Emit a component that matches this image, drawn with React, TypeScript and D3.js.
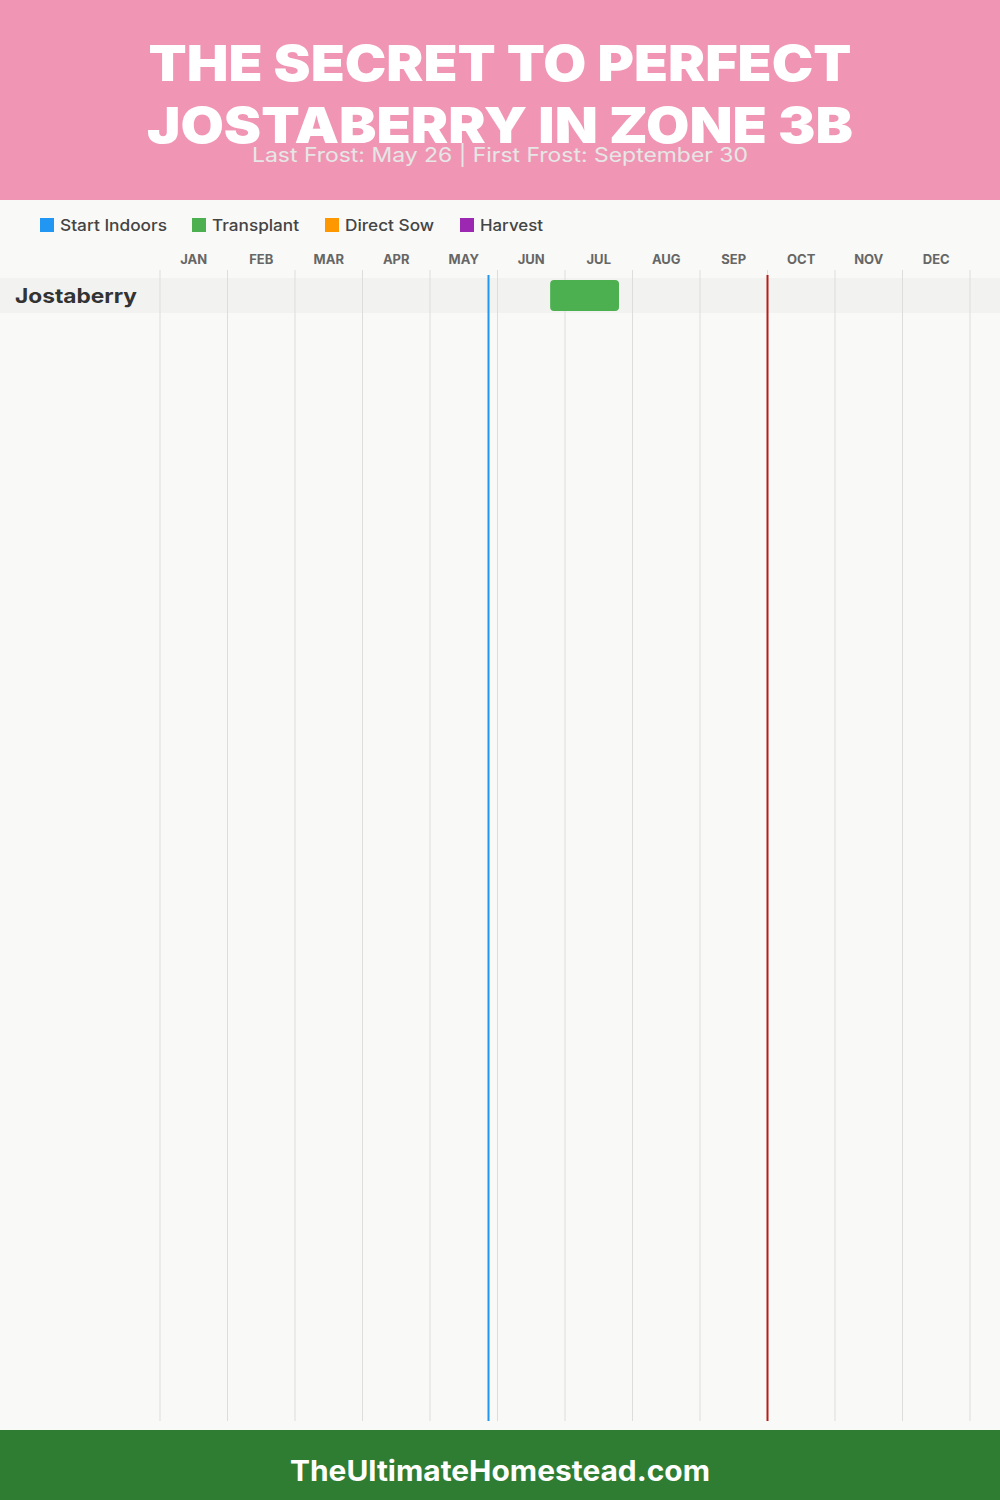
import React from "react";
import * as d3 from "d3";

const months = ["JAN","FEB","MAR","APR","MAY","JUN","JUL","AUG","SEP","OCT","NOV","DEC"];
const crops = ["Jostaberry"];
const legendNames = ["Start Indoors","Transplant","Direct Sow","Harvest"];
const legendColors = ["#2196F3","#4CAF50","#FF9800","#9C27B0"];
// bars: [crop, type index, start (month index + fraction), end]
const barCrop = ["Jostaberry"];
const barType = [1];
const barStart = [5.78];
const barEnd = [6.8];
// frost dates: month (1-based), day
const lastFrost = [5, 26];
const firstFrost = [9, 30];
const titleLines = ["THE SECRET TO PERFECT", "JOSTABERRY IN ZONE 3B"];
const subtitle = "Last Frost: May 26 | First Frost: September 30";
const footer = "TheUltimateHomestead.com";

const W = 1000, H = 1500;
const font = "Inter, 'Open Sans', sans-serif";

export default function App() {
  const x = d3.scaleLinear().domain([0, 12]).range([160, 970]);
  const y = d3.scaleBand().domain(crops).range([278, 313]);
  const frostX = (m: number[]) => x(m[0] - 1 + m[1] / 30);
  const legendX = [40, 192, 325, 460];
  const legendW = [107, 87, 89, 63];
  const gridTop = 270, gridBottom = 1421;
  return (
    <div>
      <style>{"body{margin:0}"}</style>
      <svg width={W} height={H} style={{ display: "block" }}>
        <rect x={0} y={0} width={W} height={H} fill="#F9F9F7" />
        <rect x={0} y={0} width={W} height={200} fill="#F096B4" />
        {titleLines.map((t, i) => (
          <text key={t} x={500} y={81 + i * 62} textAnchor="middle" fill="#fff"
            fontFamily={font} fontWeight={900} fontSize={50}
            textLength={i === 0 ? 703 : 706} lengthAdjust="spacingAndGlyphs">{t}</text>
        ))}
        <text x={500} y={162} textAnchor="middle" fill="#E6E6E6" fontFamily={font}
          fontSize={20} textLength={496} lengthAdjust="spacingAndGlyphs">{subtitle}</text>

        {legendNames.map((n, i) => (
          <g key={n}>
            <rect x={legendX[i]} y={218} width={14} height={14} fill={legendColors[i]} />
            <text x={legendX[i] + 20} y={231} fill="#444" fontFamily={font} fontSize={16} fontWeight={500}
              textLength={legendW[i]} lengthAdjust="spacingAndGlyphs">{n}</text>
          </g>
        ))}

        {months.map((m, i) => (
          <text key={m} x={x(i + 0.5)} y={264} textAnchor="middle" fill="#666"
            fontFamily={font} fontWeight={700} fontSize={13}>{m}</text>
        ))}

        {crops.map((c) => (
          <rect key={c} x={0} y={y(c)} width={W} height={y.bandwidth()} fill="#F2F2F0" />
        ))}

        {d3.range(13).map((i) => (
          <line key={i} x1={x(i)} x2={x(i)} y1={gridTop} y2={gridBottom} stroke="#DDDDDD" strokeWidth={1} />
        ))}

        {crops.map((c) => (
          <text key={c} x={15} y={(y(c) as number) + 25} fill="#333" fontFamily={font}
            fontWeight={700} fontSize={20} textLength={122} lengthAdjust="spacingAndGlyphs">{c}</text>
        ))}

        {barCrop.map((c, i) => (
          <rect key={i} x={x(barStart[i])} y={(y(c) as number) + 2} width={x(barEnd[i]) - x(barStart[i])}
            height={y.bandwidth() - 4} rx={4} fill={legendColors[barType[i]]} />
        ))}

        <line x1={frostX(lastFrost)} x2={frostX(lastFrost)} y1={275} y2={gridBottom} stroke="#2196F3" strokeWidth={2} />
        <line x1={frostX(firstFrost)} x2={frostX(firstFrost)} y1={275} y2={gridBottom} stroke="#B71C1C" strokeWidth={2} />

        <rect x={0} y={1430} width={W} height={70} fill="#2E7D32" />
        <text x={500} y={1481} textAnchor="middle" fill="#fff" fontFamily={font} fontWeight={700}
          fontSize={28} textLength={420} lengthAdjust="spacingAndGlyphs">{footer}</text>
      </svg>
    </div>
  );
}
